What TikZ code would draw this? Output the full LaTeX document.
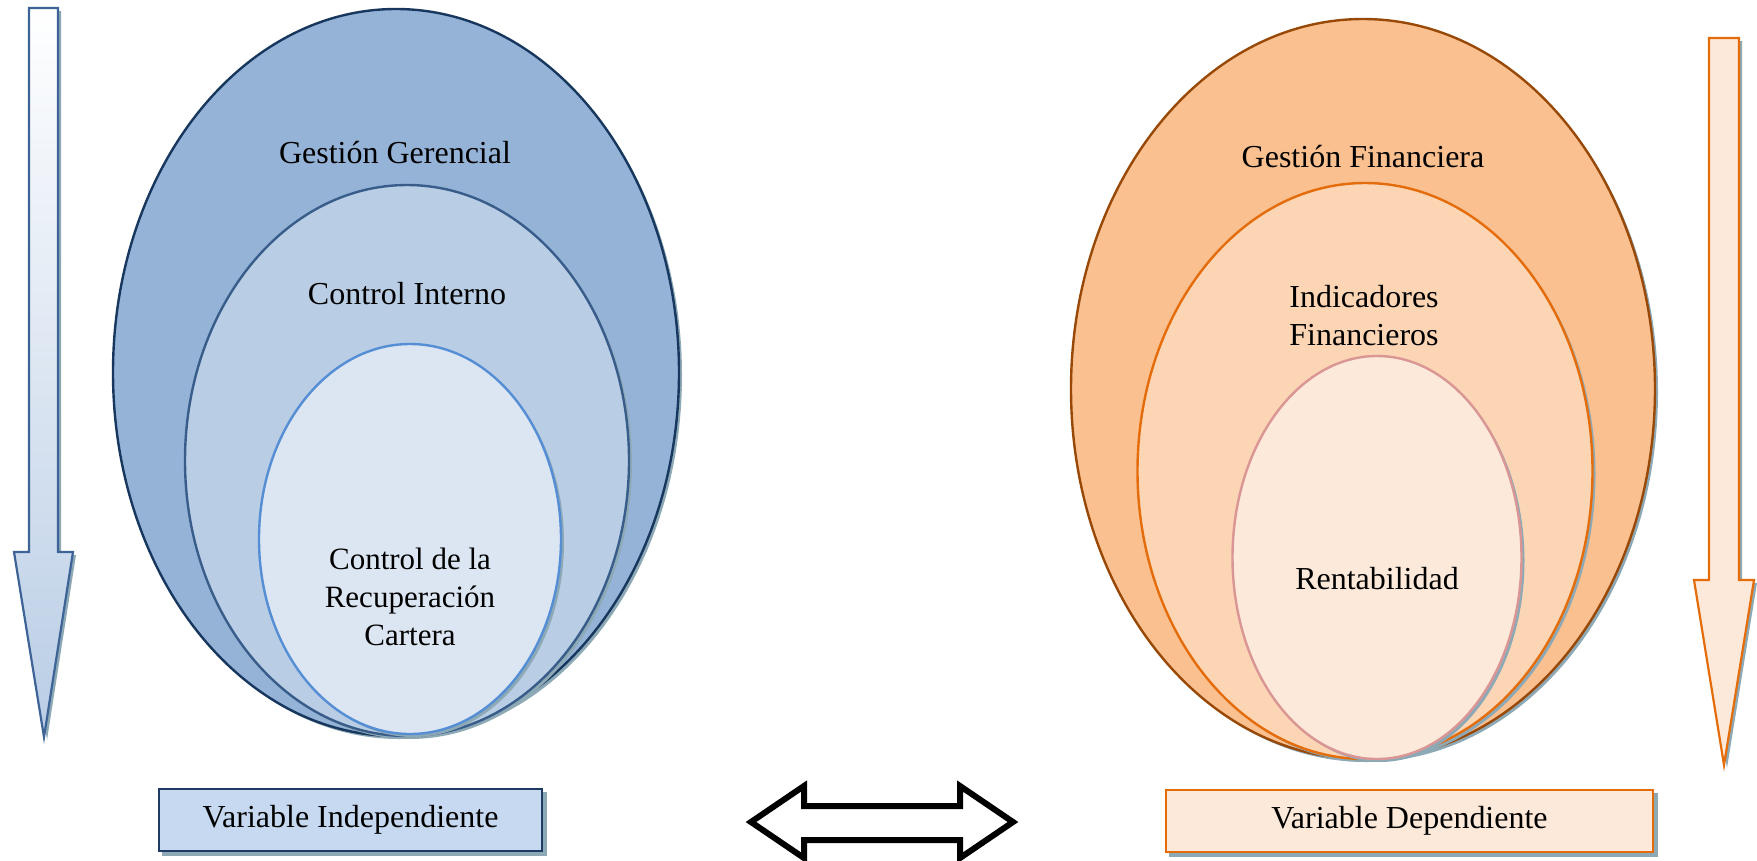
\documentclass[tikz,border=0pt]{standalone}
\usepackage{fontspec}
\setmainfont{Liberation Serif}
\usetikzlibrary{shapes.geometric,calc}

\definecolor{navy}{HTML}{17375E}
\definecolor{bluefillA}{HTML}{95B3D7}
\definecolor{bluelineB}{HTML}{385D8A}
\definecolor{bluefillB}{HTML}{B9CDE5}
\definecolor{bluelineC}{HTML}{558ED5}
\definecolor{bluefillC}{HTML}{DCE6F2}
\definecolor{brownline}{HTML}{984807}
\definecolor{orangefillA}{HTML}{FAC090}
\definecolor{orangeline}{HTML}{E46C0A}
\definecolor{orangefillB}{HTML}{FCD5B5}
\definecolor{pinkline}{HTML}{D99694}
\definecolor{peachfill}{HTML}{FDE9D9}
\definecolor{shadowcol}{HTML}{8EA9B6}
\definecolor{arrowblue}{HTML}{3E6497}
\definecolor{boxblue}{HTML}{C6D9F1}
\definecolor{boxnavy}{HTML}{1F3B63}

\tikzset{
  oval/.style={ellipse, inner sep=0pt, line width=2.4pt},
  ovalshadow/.style={ellipse, inner sep=0pt, fill=shadowcol, draw=none},
  label/.style={font=\fontsize{32}{38}\selectfont, align=center, inner sep=0pt},
  varbox/.style={rectangle, inner sep=0pt, line width=2.6pt, font=\fontsize{32}{38}\selectfont},
}

\newcommand{\ovalpair}[6]{%
  % #1 name, #2 position, #3 width, #4 height, #5 fill, #6 stroke
  \node[ovalshadow, minimum width=#3pt, minimum height=#4pt] at ($#2+(3,3)$) {};
  \node[oval, fill=#5, draw=#6, minimum width=#3pt, minimum height=#4pt] (#1) at #2 {};
}

\begin{document}
\begin{tikzpicture}[x=1pt,y=-1pt]
\useasboundingbox (0,0) rectangle (1757,860);

% left column: independent variable
\ovalpair{gerencial}{(396,372.5)}{566}{727}{bluefillA}{navy}
\ovalpair{interno}{(407,460.5)}{444}{551}{bluefillB}{bluelineB}
\ovalpair{cartera}{(410,539)}{302}{390}{bluefillC}{bluelineC}

\node[label] (tGerencial) at (395,153) {Gestión Gerencial};
\node[label] (tInterno) at (407,294) {Control Interno};
\node[label, font=\fontsize{31}{38}\selectfont] (tCartera) at (410,597) {Control de la\\Recuperación\\Cartera};

% right column: dependent variable
\ovalpair{financiera}{(1363,389)}{584}{740}{orangefillA}{brownline}
\ovalpair{indicadores}{(1365,471)}{455}{576}{orangefillB}{orangeline}
\ovalpair{rentabilidad}{(1377,557.5)}{289}{403}{peachfill}{pinkline}

\node[label] (tFinanciera) at (1363,157) {Gestión Financiera};
\node[label] (tIndicadores) at (1364,316) {Indicadores\\Financieros};
\node[label] (tRentabilidad) at (1377,579) {Rentabilidad};

% vertical block arrows
\fill[shadowcol] (32,11) -- (61,11) -- (61,555) -- (76,555) -- (47,740) -- (17,555) -- (32,555) -- cycle;
\shade[top color=white, bottom color=bluefillB, draw=arrowblue, line width=2.2pt]
  (29,8) -- (58,8) -- (58,552) -- (73,552) -- (44,737) -- (14,552) -- (29,552) -- cycle;

\fill[shadowcol] (1712,41) -- (1742,41) -- (1742,583) -- (1757,583) -- (1727,768) -- (1697,583) -- (1712,583) -- cycle;
\draw[fill=peachfill, draw=orangeline, line width=2.2pt]
  (1709,38) -- (1739,38) -- (1739,580) -- (1754,580) -- (1724,765) -- (1694,580) -- (1709,580) -- cycle;

% variable boxes
\fill[shadowcol] (162,792) rectangle (547,856);
\node[varbox, fill=boxblue, draw=boxnavy, minimum width=383pt, minimum height=62pt] (indep) at (350.5,820) {Variable Independiente};

\fill[shadowcol] (1169,793) rectangle (1658,857);
\node[varbox, fill=peachfill, draw=orangeline, minimum width=487pt, minimum height=62pt] (dep) at (1409.5,821) {Variable Dependiente};

% two-way relation arrow
\draw[line width=6pt, fill=white, line join=miter]
  (751,822) -- (804,786) -- (804,806) -- (960,806) -- (960,786) -- (1013,822)
  -- (960,858) -- (960,840) -- (804,840) -- (804,858) -- cycle;
\end{tikzpicture}
\end{document}
